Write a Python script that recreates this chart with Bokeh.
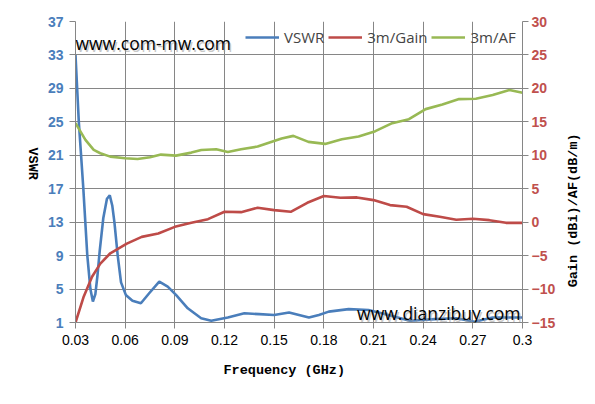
import math
from bokeh.plotting import figure
from bokeh.layouts import row
from bokeh.models import Range1d, LinearAxis, FixedTicker, Legend, LegendItem, Label, Title
from bokeh.embed import file_html
from bokeh.resources import INLINE

# ---- data ----
x_ticks = [0.03, 0.06, 0.09, 0.12, 0.15, 0.18, 0.21, 0.24, 0.27, 0.3]
x_tick_labels = ["0.03", "0.06", "0.09", "0.12", "0.15", "0.18", "0.21", "0.24", "0.27", "0.3"]
vswr_ticks = [1, 5, 9, 13, 17, 21, 25, 29, 33, 37]
gain_ticks = [-15, -10, -5, 0, 5, 10, 15, 20, 25, 30]

vswr_freq = [0.030, 0.032, 0.0347, 0.0371, 0.039, 0.0405, 0.042, 0.0432, 0.0446, 0.0468,
             0.049, 0.0507, 0.0522, 0.0535, 0.0555, 0.0575, 0.0604, 0.0644, 0.0695, 0.0745,
             0.0806, 0.0857, 0.0907, 0.0978, 0.1059, 0.112, 0.122, 0.132, 0.141, 0.150,
             0.159, 0.165, 0.171, 0.177, 0.183, 0.195, 0.207, 0.219, 0.232, 0.247,
             0.260, 0.271, 0.282, 0.291, 0.300]
vswr = [33.0, 25.0, 17.1, 9.1, 5.0, 3.5, 4.4, 6.5, 9.5, 13.5,
        15.8, 16.2, 15.0, 13.0, 9.0, 5.8, 4.3, 3.6, 3.3, 4.5,
        5.9, 5.3, 4.3, 2.7, 1.5, 1.2, 1.6, 2.1, 2.0, 1.9,
        2.2, 1.9, 1.6, 1.9, 2.3, 2.6, 2.5, 1.9, 1.2, 1.4,
        1.5, 1.1, 1.6, 1.6, 1.6]

gain_freq = [0.030, 0.035, 0.040, 0.045, 0.051, 0.061, 0.070, 0.080, 0.090, 0.100,
             0.110, 0.120, 0.130, 0.140, 0.150, 0.160, 0.170, 0.180, 0.190, 0.200,
             0.210, 0.220, 0.230, 0.240, 0.250, 0.260, 0.270, 0.280, 0.290, 0.300]
gain = [-15.0, -11.1, -8.15, -6.2, -4.65, -3.2, -2.2, -1.7, -0.7, -0.1,
        0.45, 1.55, 1.5, 2.15, 1.8, 1.55, 2.9, 3.9, 3.65, 3.7,
        3.3, 2.55, 2.3, 1.2, 0.8, 0.35, 0.5, 0.3, -0.1, -0.1]

af_freq = [0.030, 0.036, 0.041, 0.045, 0.051, 0.060, 0.0675, 0.075, 0.0816, 0.0907,
           0.100, 0.106, 0.115, 0.122, 0.130, 0.140, 0.1545, 0.1616, 0.1707, 0.1808,
           0.1909, 0.201, 0.2111, 0.2213, 0.2314, 0.2415, 0.2516, 0.2617, 0.2718, 0.282,
           0.2921, 0.300]
af = [14.8, 12.3, 10.8, 10.3, 9.8, 9.55, 9.45, 9.7, 10.1, 9.95,
      10.4, 10.8, 10.9, 10.5, 10.9, 11.3, 12.5, 12.9, 12.0, 11.7,
      12.4, 12.8, 13.6, 14.8, 15.4, 16.9, 17.6, 18.4, 18.45, 19.0,
      19.75, 19.35]

BLUE = "#4A7EBB"
RED = "#BE4B48"
GREEN = "#98B954"
GRID = "#868686"
TITLE_FONT = "Liberation Mono"
title_style = dict(text_font=TITLE_FONT, text_font_style="bold", text_font_size="13.5px",
                   text_color="black")

p = figure(width=522, height=400, x_range=Range1d(0.03, 0.3), y_range=Range1d(1, 37),
           output_backend="svg", toolbar_location=None,
           min_border_left=35, min_border_right=40, min_border_top=21, min_border_bottom=78)
p.extra_y_ranges = {"g": Range1d(-15, 30)}
p.outline_line_color = None
p.background_fill_color = "white"

# x axis
xa = p.xaxis[0]
xa.ticker = FixedTicker(ticks=x_ticks)
xa.major_label_overrides = dict(zip(x_ticks, x_tick_labels))
xa.major_label_text_font = "Liberation Sans"
xa.major_label_text_font_size = "14px"
xa.major_label_text_color = "black"
xa.major_label_standoff = 6

# left axis
ya = p.yaxis[0]
ya.ticker = FixedTicker(ticks=vswr_ticks)
ya.major_label_text_font = "Liberation Sans"
ya.major_label_text_font_style = "bold"
ya.major_label_text_font_size = "14px"
ya.major_label_text_color = BLUE
ya.major_label_standoff = 6

# right axis
ra = LinearAxis(y_range_name="g", ticker=FixedTicker(ticks=gain_ticks))
ra.major_label_text_font = "Liberation Sans"
ra.major_label_text_font_style = "bold"
ra.major_label_text_font_size = "14px"
ra.major_label_text_color = "#C0504D"
ra.major_label_standoff = 3
p.add_layout(ra, "right")

for ax in (xa, ya, ra):
    ax.axis_line_color = GRID
    ax.major_tick_line_color = GRID
    ax.major_tick_in = 0
    ax.major_tick_out = 6
    ax.minor_tick_line_color = None

p.add_layout(Title(text="Frequency (GHz)", align="left", offset=148, standoff=27,
                   **title_style), "below")

p.xgrid.grid_line_color = GRID
p.ygrid.grid_line_color = GRID
p.xgrid.grid_line_width = 1
p.ygrid.grid_line_width = 1

r1 = p.line(vswr_freq, vswr, line_color=BLUE, line_width=2.6)
r2 = p.line(gain_freq, gain, y_range_name="g", line_color=RED, line_width=2.6)
r3 = p.line(af_freq, af, y_range_name="g", line_color=GREEN, line_width=2.6)

legend = Legend(items=[LegendItem(label="VSWR", renderers=[r1]),
                       LegendItem(label="3m/Gain", renderers=[r2]),
                       LegendItem(label="3m/AF", renderers=[r3])],
                location=(170, 275), orientation="horizontal",
                background_fill_alpha=0, border_line_color=None,
                padding=0, margin=0, spacing=4, glyph_width=34, glyph_height=20,
                label_height=20, label_standoff=5,
                label_text_font="Open Sans", label_text_font_size="15px")
p.add_layout(legend)

# watermark texts (with soft shadow)
for dx, dy, col, alpha in ((1.5, -1.5, "#9A9A9A", 0.55), (0, 0, "black", 1.0)):
    p.add_layout(Label(x=0.03, y=34.4, text="www.com-mw.com", x_offset=dx, y_offset=dy,
                       text_font="Open Sans", text_font_size="17.5px", text_color=col,
                       text_alpha=alpha, text_baseline="alphabetic", text_align="left"))
    p.add_layout(Label(x=0.3, y=2.1, text="www.dianzibuy.com", x_offset=dx - 2, y_offset=dy,
                       text_font="Open Sans", text_font_size="17.5px", text_color=col,
                       text_alpha=alpha, text_baseline="alphabetic", text_align="right"))


def side_panel(width, text, x, y, angle):
    s = figure(width=width, height=400, x_range=Range1d(0, 1), y_range=Range1d(0, 1),
               output_backend="svg", toolbar_location=None,
               x_axis_location=None, y_axis_location=None, min_border=0)
    s.grid.visible = False
    s.outline_line_color = None
    s.add_layout(Label(x=x, y=y, text=text, angle=angle, text_align="center",
                       text_baseline="middle", **title_style))
    return s


left_panel = side_panel(40, "VSWR", 0.7925, 0.5275, -math.pi / 2)
right_panel = side_panel(28, "Gain (dBi)/AF(dB/m)", 0.375, 0.3725, math.pi / 2)

layout = row(left_panel, p, right_panel, spacing=0)
open("out.html", "w").write(file_html(layout, INLINE))
